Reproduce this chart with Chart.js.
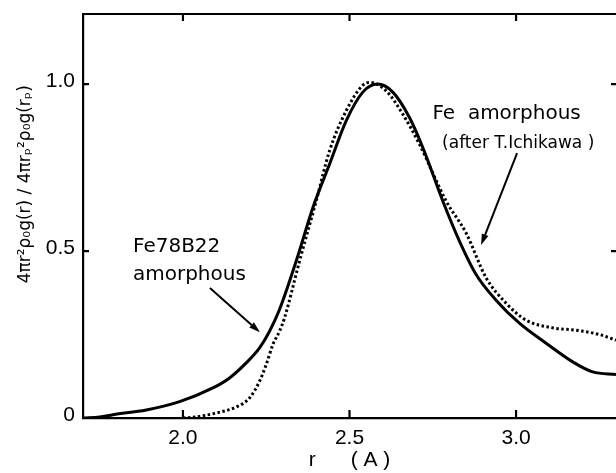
<!DOCTYPE html>
<html>
<head>
<meta charset="utf-8">
<script src="https://cdn.jsdelivr.net/npm/chart.js@4.4.1/dist/chart.umd.min.js"></script>
<style>
  html, body { margin: 0; padding: 0; background: #fff; }
  #wrap { width: 616px; height: 473px; }
</style>
</head>
<body>
<div id="wrap"><canvas id="rdf" width="616" height="473"></canvas></div>
<script>
// Fe78B22 amorphous (solid)
const rFeB = [1.70, 1.75, 1.79, 1.89, 1.99, 2.09, 2.14, 2.19, 2.23, 2.26, 2.29, 2.34, 2.39, 2.44, 2.49, 2.54, 2.584, 2.63, 2.68, 2.72, 2.78, 2.83, 2.88, 2.94, 3.01, 3.09, 3.17, 3.23, 3.30];
const gFeB = [0.0, 0.003, 0.01, 0.024, 0.049, 0.09, 0.12, 0.165, 0.21, 0.26, 0.325, 0.47, 0.63, 0.76, 0.89, 0.976, 1.0, 0.976, 0.90, 0.81, 0.65, 0.53, 0.43, 0.353, 0.284, 0.224, 0.168, 0.138, 0.13];

// Fe amorphous, after T. Ichikawa (dotted)
const rFe = [2.00, 2.03, 2.10, 2.16, 2.20, 2.23, 2.25, 2.27, 2.29, 2.305, 2.35, 2.40, 2.44, 2.49, 2.54, 2.56, 2.61, 2.66, 2.71, 2.79, 2.85, 2.91, 2.97, 3.03, 3.11, 3.18, 3.25, 3.30];
const gFe = [0.0, 0.002, 0.015, 0.033, 0.06, 0.11, 0.16, 0.22, 0.26, 0.30, 0.47, 0.65, 0.80, 0.92, 0.997, 1.005, 0.98, 0.91, 0.82, 0.65, 0.554, 0.42, 0.344, 0.293, 0.27, 0.263, 0.25, 0.233];

const xTickValues = [2.0, 2.5, 3.0];
const xTickLabels = ['2.0', '2.5', '3.0'];
const yTickValues = [0, 0.5, 1.0];
const yTickLabels = ['0', '0.5', '1.0'];

const yTitle = '4πr²ρ₀g(r) / 4πrₚ²ρ₀g(rₚ)';
const xTitle = 'r      ( A )';

// annotation text and arrows, placed in data units
const notes = [
  { text: 'Fe  amorphous', x: 2.749, y: 0.91, size: 20 },
  { text: '(after T.Ichikawa )', x: 2.778, y: 0.823, size: 17 },
  { text: 'Fe78B22', x: 1.85, y: 0.512, size: 20 },
  { text: 'amorphous', x: 1.85, y: 0.428, size: 20 },
];
const arrows = [
  { x0: 2.081, y0: 0.389, x1: 2.231, y1: 0.257 },
  { x0: 3.003, y0: 0.793, x1: 2.895, y1: 0.518 },
];

const FONT = "'Liberation Sans', Arial, sans-serif";
const NOTE_FONT = "'DejaVu Sans', sans-serif";

const framePlugin = {
  id: 'frame',
  afterDraw(chart) {
    const { ctx, chartArea: a, scales: { x, y } } = chart;
    ctx.save();
    ctx.strokeStyle = '#000';
    ctx.lineWidth = 2.2;
    ctx.beginPath();
    ctx.moveTo(a.left - 1, a.top);
    ctx.lineTo(a.right, a.top);
    xTickValues.forEach(v => {
      const px = x.getPixelForValue(v);
      ctx.moveTo(px, a.bottom); ctx.lineTo(px, a.bottom - 8);
      ctx.moveTo(px, a.top); ctx.lineTo(px, a.top + 7);
    });
    yTickValues.slice(1).forEach(v => {
      const py = y.getPixelForValue(v);
      ctx.moveTo(a.left, py); ctx.lineTo(a.left + 6, py);
      ctx.moveTo(a.right, py); ctx.lineTo(a.right - 5, py);
    });
    ctx.stroke();

    // arrows
    ctx.lineWidth = 2;
    ctx.fillStyle = '#000';
    arrows.forEach(ar => {
      const x0 = x.getPixelForValue(ar.x0), y0 = y.getPixelForValue(ar.y0);
      const x1 = x.getPixelForValue(ar.x1), y1 = y.getPixelForValue(ar.y1);
      const ang = Math.atan2(y1 - y0, x1 - x0);
      const hl = 11, hw = 3.5;
      const bx = x1 - hl * Math.cos(ang), by = y1 - hl * Math.sin(ang);
      ctx.beginPath();
      ctx.moveTo(x0, y0); ctx.lineTo(bx, by);
      ctx.stroke();
      ctx.beginPath();
      ctx.moveTo(x1, y1);
      ctx.lineTo(bx + hw * Math.sin(ang), by - hw * Math.cos(ang));
      ctx.lineTo(bx - hw * Math.sin(ang), by + hw * Math.cos(ang));
      ctx.closePath();
      ctx.fill();
    });

    // labels
    ctx.textBaseline = 'middle';
    ctx.textAlign = 'left';
    notes.forEach(n => {
      ctx.font = `${n.size}px ${NOTE_FONT}`;
      ctx.fillText(n.text, x.getPixelForValue(n.x), y.getPixelForValue(n.y));
    });

    // y axis title, sits a bit above the middle in the original
    ctx.translate(26, y.getPixelForValue(0.70));
    ctx.rotate(-Math.PI / 2);
    ctx.textAlign = 'center';
    ctx.font = `17px ${NOTE_FONT}`;
    ctx.fillText(yTitle, 0, 0);
    ctx.restore();
  }
};

const toPoints = (xs, ys) => xs.map((v, i) => ({ x: v, y: ys[i] }));

new Chart(document.getElementById('rdf'), {
  type: 'line',
  data: {
    datasets: [
      {
        label: 'Fe78B22 amorphous',
        data: toPoints(rFeB, gFeB),
        borderColor: '#000',
        borderWidth: 3,
        pointRadius: 0,
        cubicInterpolationMode: 'monotone',
      },
      {
        label: 'Fe amorphous (after T.Ichikawa)',
        data: toPoints(rFe, gFe),
        borderColor: '#000',
        borderWidth: 3,
        borderDash: [2.5, 2.5],
        pointRadius: 0,
        cubicInterpolationMode: 'monotone',
      },
    ],
  },
  options: {
    responsive: false,
    animation: false,
    events: [],
    layout: { padding: { top: 14, right: 0, left: 0, bottom: 0 } },
    plugins: { legend: { display: false }, tooltip: { enabled: false } },
    scales: {
      x: {
        type: 'linear',
        min: 1.70,
        max: 3.30,
        afterFit: s => { s.height = 55; s.paddingLeft = 0; s.paddingRight = 0; },
        afterBuildTicks: s => { s.ticks = xTickValues.map(v => ({ value: v })); },
        grid: { display: false },
        border: { display: true, color: '#000', width: 2.2 },
        ticks: {
          color: '#000',
          padding: 0,
          maxRotation: 0,
          font: { family: FONT, size: 21 },
          callback: v => xTickLabels[xTickValues.indexOf(v)] ?? '',
        },
        title: {
          display: true,
          text: xTitle,
          color: '#000',
          padding: { top: 0, bottom: 0 },
          font: { family: FONT, size: 21 },
        },
      },
      y: {
        min: 0,
        max: 1.21,
        afterFit: s => { s.width = 83; s.paddingTop = 0; s.paddingBottom = 0; },
        afterBuildTicks: s => { s.ticks = yTickValues.map(v => ({ value: v })); },
        grid: { display: false },
        border: { display: true, color: '#000', width: 2.2 },
        ticks: {
          color: '#000',
          padding: 0,
          labelOffset: -3,
          font: { family: FONT, size: 21 },
          callback: v => yTickLabels[yTickValues.indexOf(v)] ?? '',
        },
      },
    },
  },
  plugins: [framePlugin],
});
</script>
</body>
</html>
